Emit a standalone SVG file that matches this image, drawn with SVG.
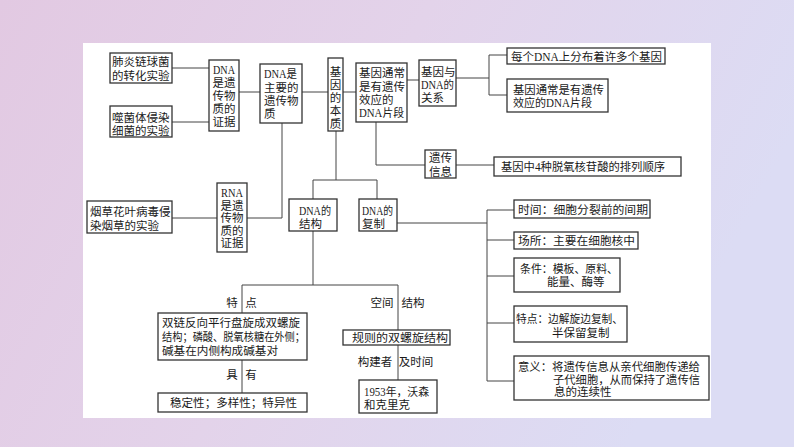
<svg xmlns="http://www.w3.org/2000/svg" width="794" height="447" viewBox="0 0 794 447">
<defs>
<linearGradient id="bg" x1="0" y1="0" x2="1" y2="0.3">
<stop offset="0" stop-color="#e2c9e2"/>
<stop offset="0.5" stop-color="#e3d3ea"/>
<stop offset="1" stop-color="#dcdcf4"/>
</linearGradient>
<style>
.b{fill:#fff;stroke:#333;stroke-width:1.3}
.c{fill:none;stroke:#444;stroke-width:1}
text{font-family:"Liberation Serif","Noto Sans CJK SC",serif;font-size:11.5px;fill:#1a1a1a}
.m{text-anchor:middle}
</style>
</defs>
<rect x="0" y="0" width="794" height="447" fill="url(#bg)"/>
<rect x="83" y="43" width="628" height="375" fill="#fff"/>
<g id="connectors">
<path class="c" d="M172,68H209M172,122H209M239,92H260"/>
<path class="c" d="M282,123V218H247M172,218H217"/>
<path class="c" d="M302,92H328M343,92H356M407,80H419"/>
<path class="c" d="M456,78H489M489,55V95M489,55H507M489,95H507"/>
<path class="c" d="M376,122V165H425M456,165H494"/>
<path class="c" d="M336,131V180M313,180H377M313,180V199M377,180V199"/>
<path class="c" d="M397,223H487M487,210V381M487,210H514M487,240H514M487,276H514M487,323H514M487,381H514"/>
<path class="c" d="M313,231V285M242,285H398M242,285V313M398,285V330M242,360V393M398,344V380"/>
</g>
<g id="n1"><rect class="b" x="110" y="53" width="62" height="30"/><text x="112" y="66">肺炎链球菌</text><text x="112" y="80">的转化实验</text></g>
<g id="n2"><rect class="b" x="110" y="106" width="62" height="31"/><text x="112" y="121.5">噬菌体侵染</text><text x="112" y="134.5">细菌的实验</text></g>
<g id="n3"><rect class="b" x="209" y="60" width="30" height="71"/><text class="m" x="224" y="74" textLength="22" lengthAdjust="spacingAndGlyphs">DNA</text><text class="m" x="224" y="87">是遗</text><text class="m" x="224" y="100">传物</text><text class="m" x="224" y="113">质的</text><text class="m" x="224" y="126">证据</text></g>
<g id="n4"><rect class="b" x="260" y="64" width="42" height="59"/><text x="264" y="78" textLength="33" lengthAdjust="spacingAndGlyphs">DNA是</text><text x="264" y="92">主要的</text><text x="264" y="105">遗传物</text><text x="264" y="118">质</text></g>
<g id="n5"><rect class="b" x="217" y="183" width="30" height="69"/><text class="m" x="232" y="197" textLength="22" lengthAdjust="spacingAndGlyphs">RNA</text><text class="m" x="232" y="209.5">是遗</text><text class="m" x="232" y="222">传物</text><text class="m" x="232" y="234.5">质的</text><text class="m" x="232" y="247">证据</text></g>
<g id="n6"><rect class="b" x="87" y="201" width="85" height="32"/><text x="90" y="216">烟草花叶病毒侵</text><text x="90" y="230">染烟草的实验</text></g>
<g id="n7"><rect class="b" x="328" y="58" width="15" height="73"/><text class="m" x="335.5" y="76">基</text><text class="m" x="335.5" y="89">因</text><text class="m" x="335.5" y="102">的</text><text class="m" x="335.5" y="115">本</text><text class="m" x="335.5" y="127.5">质</text></g>
<g id="n8"><rect class="b" x="356" y="63" width="51" height="59"/><text x="359" y="77">基因通常</text><text x="359" y="91">是有遗传</text><text x="359" y="104">效应的</text><text x="359" y="116.5" textLength="45" lengthAdjust="spacingAndGlyphs">DNA片段</text></g>
<g id="n9"><rect class="b" x="419" y="60" width="37" height="46"/><text x="421" y="76">基因与</text><text x="421" y="89" textLength="33" lengthAdjust="spacingAndGlyphs">DNA的</text><text x="421" y="102">关系</text></g>
<g id="n10"><rect class="b" x="507" y="48" width="158" height="16"/><text x="511" y="60.5" textLength="151" lengthAdjust="spacingAndGlyphs">每个DNA上分布着许多个基因</text></g>
<g id="n11"><rect class="b" x="507" y="79" width="101" height="33"/><text x="513" y="94" textLength="91" lengthAdjust="spacingAndGlyphs">基因通常是有遗传</text><text x="513" y="107" textLength="79" lengthAdjust="spacingAndGlyphs">效应的DNA片段</text></g>
<g id="n12"><rect class="b" x="425" y="150" width="31" height="28"/><text class="m" x="440.5" y="162">遗传</text><text class="m" x="440.5" y="175.5">信息</text></g>
<g id="n13"><rect class="b" x="494" y="157" width="187" height="19"/><text x="501" y="171" textLength="164" lengthAdjust="spacingAndGlyphs">基因中4种脱氧核苷酸的排列顺序</text></g>
<g id="n14"><rect class="b" x="289" y="199" width="48" height="32"/><text x="299" y="215" textLength="32" lengthAdjust="spacingAndGlyphs">DNA的</text><text x="299" y="228">结构</text></g>
<g id="n15"><rect class="b" x="359" y="199" width="38" height="32"/><text x="362" y="215" textLength="31" lengthAdjust="spacingAndGlyphs">DNA的</text><text x="362" y="228">复制</text></g>
<g id="n16"><rect class="b" x="514" y="200" width="136" height="18"/><text x="518" y="213.5" textLength="130" lengthAdjust="spacingAndGlyphs">时间：细胞分裂前的间期</text></g>
<g id="n17"><rect class="b" x="514" y="232" width="124" height="17"/><text x="518" y="245" textLength="117" lengthAdjust="spacingAndGlyphs">场所：主要在细胞核中</text></g>
<g id="n18"><rect class="b" x="514" y="258" width="106" height="34"/><text x="520" y="273" textLength="98" lengthAdjust="spacingAndGlyphs">条件：模板、原料、</text><text x="547" y="286">能量、酶等</text></g>
<g id="n19"><rect class="b" x="514" y="306" width="113" height="36"/><text x="516" y="323" textLength="107" lengthAdjust="spacingAndGlyphs">特点：边解旋边复制、</text><text x="552" y="337">半保留复制</text></g>
<g id="n20"><rect class="b" x="514" y="356" width="195" height="44"/><text x="518" y="371" textLength="182" lengthAdjust="spacingAndGlyphs">意义：将遗传信息从亲代细胞传递给</text><text x="553" y="384" textLength="147" lengthAdjust="spacingAndGlyphs">子代细胞，从而保持了遗传信</text><text x="554" y="396">息的连续性</text></g>
<g id="l1"><text class="m" x="232" y="307">特</text><text class="m" x="251" y="307">点</text><text class="m" x="382" y="307">空间</text><text class="m" x="413" y="307">结构</text><text class="m" x="232" y="379">具</text><text class="m" x="251" y="379">有</text><text class="m" x="375" y="366">构建者</text><text class="m" x="416" y="366">及时间</text></g>
<g id="n21"><rect class="b" x="158" y="313" width="149" height="47"/><text x="162" y="327" textLength="138" lengthAdjust="spacingAndGlyphs">双链反向平行盘旋成双螺旋</text><text x="162" y="341" textLength="143" lengthAdjust="spacingAndGlyphs">结构；磷酸、脱氧核糖在外侧；</text><text x="162" y="355" textLength="116" lengthAdjust="spacingAndGlyphs">碱基在内侧构成碱基对</text></g>
<g id="n22"><rect class="b" x="158" y="393" width="149" height="19"/><text x="170" y="406.5" textLength="127" lengthAdjust="spacingAndGlyphs">稳定性；多样性；特异性</text></g>
<g id="n23"><rect class="b" x="343" y="330" width="107" height="15"/><text x="352" y="341.5" textLength="96" lengthAdjust="spacingAndGlyphs">规则的双螺旋结构</text></g>
<g id="n24"><rect class="b" x="359" y="380" width="78" height="33"/><text x="364" y="396" textLength="65" lengthAdjust="spacingAndGlyphs">1953年，沃森</text><text x="364" y="409">和克里克</text></g>
</svg>
